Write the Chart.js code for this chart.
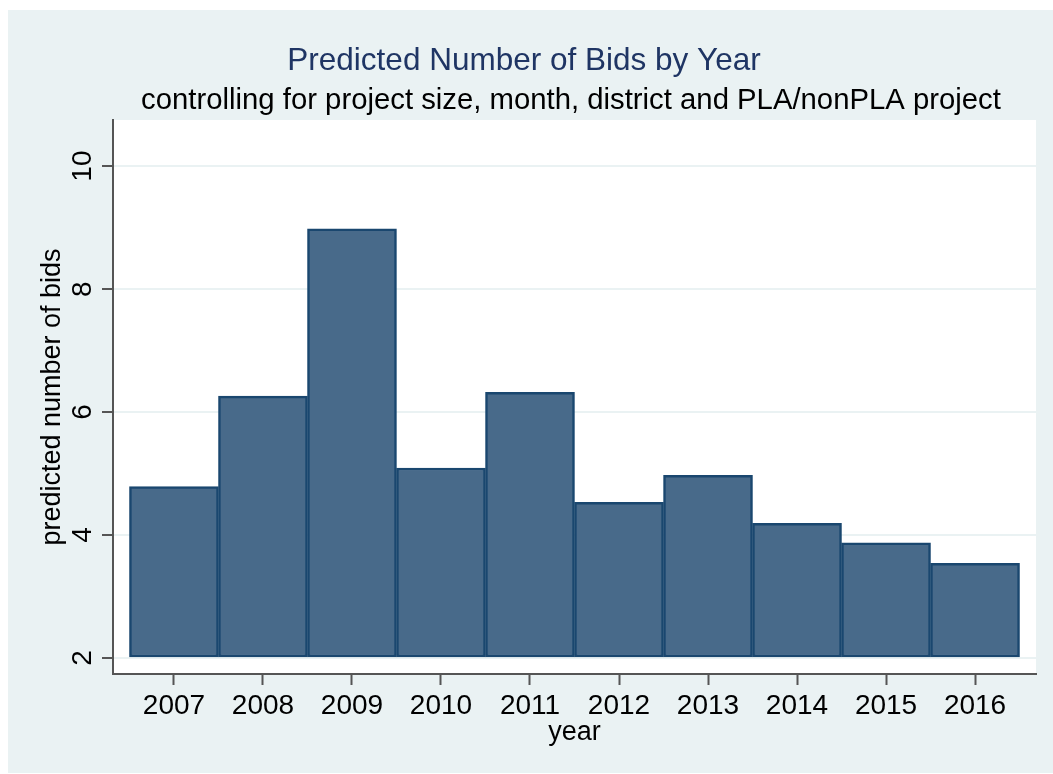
<!DOCTYPE html>
<html>
<head>
<meta charset="utf-8">
<title>Predicted Number of Bids by Year</title>
<script src="https://cdn.jsdelivr.net/npm/chart.js@4"></script>
<style>
    html, body { margin: 0; padding: 0; background: #fff; }
    #wrap { width: 1053px; height: 774px; }
</style>
</head>
<body>
<div id="wrap"><canvas id="bidsChart" width="1053" height="774"></canvas></div>
<script>
// data
const years = [2007, 2008, 2009, 2010, 2011, 2012, 2013, 2014, 2015, 2016];
const predictedBids = [4.79, 6.26, 8.98, 5.09, 6.32, 4.53, 4.97, 4.19, 3.875, 3.54];
const yTicks = [2, 4, 6, 8, 10];
const barBase = 2;

const titleText = 'Predicted Number of Bids by Year';
const subtitleText = 'controlling for project size, month, district and PLA/nonPLA project';

const FONT = "'Liberation Sans', Arial, sans-serif";
const BG = '#eaf2f3';
const AXIS = '#555555';

// background, titles and rotated y tick labels (Stata style)
const stataLook = {
    id: 'stataLook',
    beforeDraw(chart) {
        const ctx = chart.ctx;
        const area = chart.chartArea;
        ctx.save();
        ctx.fillStyle = '#ffffff';
        ctx.fillRect(0, 0, chart.width, chart.height);
        ctx.fillStyle = BG;
        ctx.fillRect(8, 10, chart.width - 8, chart.height - 11);
        ctx.fillStyle = '#ffffff';
        ctx.fillRect(area.left, area.top, area.right - area.left, area.bottom - area.top);
        ctx.restore();
    },
    afterDraw(chart) {
        const ctx = chart.ctx;
        ctx.save();
        ctx.textAlign = 'center';
        ctx.textBaseline = 'alphabetic';
        ctx.fillStyle = '#1f3564';
        ctx.font = '31.5px ' + FONT;
        ctx.fillText(titleText, 524, 70);
        ctx.fillStyle = '#000000';
        ctx.font = '29.3px ' + FONT;
        ctx.fillText(subtitleText, 571, 109);

        // y tick labels, rotated like the reference
        const yScale = chart.scales.y;
        ctx.font = '28px ' + FONT;
        yScale.ticks.forEach(t => {
            const py = yScale.getPixelForValue(t.value);
            ctx.save();
            ctx.translate(91, py);
            ctx.rotate(-Math.PI / 2);
            ctx.fillText(String(t.value), 0, 0);
            ctx.restore();
        });
        ctx.restore();
    }
};

const ctx = document.getElementById('bidsChart').getContext('2d');
new Chart(ctx, {
    type: 'bar',
    data: {
        datasets: [{
            label: 'predicted number of bids',
            data: years.map((y, i) => ({ x: y, y: predictedBids[i] })),
            base: barBase,
            backgroundColor: '#486a8a',
            borderColor: '#1a476f',
            borderWidth: 2.5,
            borderSkipped: false,
            barPercentage: 1,
            categoryPercentage: 1
        }]
    },
    options: {
        responsive: false,
        devicePixelRatio: 1,
        animation: false,
        layout: { padding: { left: 0, right: 17, top: 120, bottom: 0 } },
        plugins: {
            legend: { display: false },
            tooltip: { enabled: false }
        },
        scales: {
            x: {
                type: 'linear',
                min: 2006.315,
                max: 2016.685,
                offset: false,
                afterBuildTicks: s => { s.ticks = years.map(v => ({ value: v })); },
                afterFit: s => { s.height = 100; },
                grid: {
                    offset: false,
                    drawOnChartArea: false,
                    drawTicks: true,
                    tickLength: 11,
                    tickColor: AXIS,
                    tickWidth: 2
                },
                border: { color: AXIS, width: 2 },
                ticks: {
                    color: '#000000',
                    padding: 4,
                    maxRotation: 0,
                    autoSkip: false,
                    font: { family: FONT, size: 28 },
                    callback: v => String(v)
                },
                title: {
                    display: true,
                    text: 'year',
                    color: '#000000',
                    font: { family: FONT, size: 27 },
                    padding: { top: 0, bottom: 25 }
                }
            },
            y: {
                type: 'linear',
                min: 1.74,
                max: 10.75,
                afterBuildTicks: s => { s.ticks = yTicks.map(v => ({ value: v })); },
                afterFit: s => { s.width = 113; },
                grid: {
                    color: BG,
                    lineWidth: 2,
                    drawTicks: true,
                    tickLength: 11,
                    tickColor: AXIS,
                    tickWidth: 2
                },
                border: { color: AXIS, width: 2 },
                ticks: { display: false },
                title: {
                    display: true,
                    text: 'predicted number of bids',
                    color: '#000000',
                    font: { family: FONT, size: 27 },
                    padding: { top: 36, bottom: 0 }
                }
            }
        }
    },
    plugins: [stataLook]
});
</script>
</body>
</html>
